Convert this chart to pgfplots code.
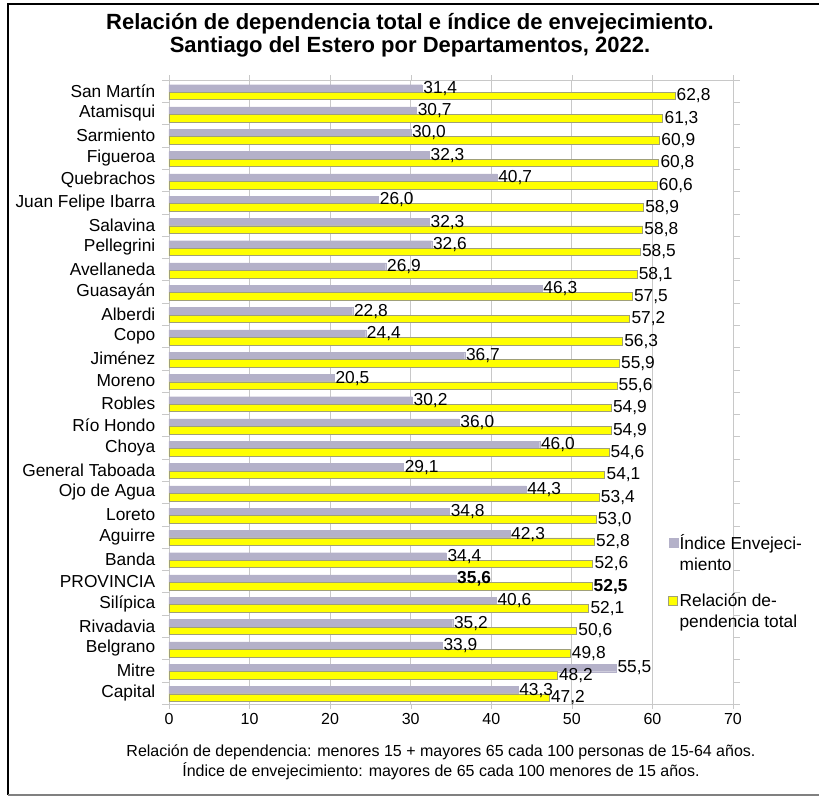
\documentclass[border=0pt]{standalone}
\usepackage{pgfplots}
\pgfplotsset{compat=1.18}
\usepackage{pgfplotstable}
\usepackage{fontspec}
\setmainfont{Liberation Sans}
\definecolor{iec}{RGB}{180,177,201}
\definecolor{rdy}{RGB}{255,255,0}
\definecolor{rdb}{RGB}{160,160,120}
\definecolor{gridc}{RGB}{200,200,200}

\pgfplotstableread{
i ie rd b
0 31.4 62.8 0
1 30.7 61.3 0
2 30.0 60.9 0
3 32.3 60.8 0
4 40.7 60.6 0
5 26.0 58.9 0
6 32.3 58.8 0
7 32.6 58.5 0
8 26.9 58.1 0
9 46.3 57.5 0
10 22.8 57.2 0
11 24.4 56.3 0
12 36.7 55.9 0
13 20.5 55.6 0
14 30.2 54.9 0
15 36.0 54.9 0
16 46.0 54.6 0
17 29.1 54.1 0
18 44.3 53.4 0
19 34.8 53.0 0
20 42.3 52.8 0
21 34.4 52.6 0
22 35.6 52.5 1
23 40.6 52.1 0
24 35.2 50.6 0
25 33.9 49.8 0
26 55.5 48.2 0
27 43.3 47.2 0
}\data

\begin{document}
\begin{tikzpicture}
\useasboundingbox (0pt,0pt) rectangle (614.25pt,597pt);
\begin{axis}[
  at={(126.75pt,69pt)}, anchor=south west,
  scale only axis, width=423pt, height=468pt,
  xbar,
  xmin=0, xmax=70, ymin=-0.5, ymax=27.5,
  enlargelimits=false,
  y dir=reverse,
  xtick={0,10,...,70},
  ytick={0,...,27},
  yticklabels={San Martín, Atamisqui, Sarmiento, Figueroa, Quebrachos, Juan Felipe Ibarra, Salavina, Pellegrini, Avellaneda, Guasayán, Alberdi, Copo, Jiménez, Moreno, Robles, Río Hondo, Choya, General Taboada, Ojo de Agua, Loreto, Aguirre, Banda, PROVINCIA, Silípica, Rivadavia, Belgrano, Mitre, Capital},
  minor ytick={-0.5,0.5,...,27.5},
  tick align=outside,
  major tick length=3.75pt,
  minor tick length=5.25pt,
  major y tick style={draw=none},
  minor y tick style={draw=gridc},
  major x tick style={draw=gridc},
  xmajorgrids,
  grid style={draw=gridc, line width=0.6pt},
  axis line style={draw=gridc, line width=0.6pt},
  /pgf/number format/assume math mode=true,
  xticklabel style={font=\fontsize{12pt}{14pt}\selectfont},
  yticklabel style={font=\fontsize{13pt}{15pt}\selectfont, xshift=-3pt},
  bar width=0.34,
  nodes near coords={\ifdim\isbold pt>0.5pt \bfseries\fi\pgfmathprintnumber[fixed,fixed zerofill,precision=1,use comma,assume math mode=true]{\pgfplotspointmeta}},
  every node near coord/.append style={font=\fontsize{13pt}{15pt}\selectfont, inner sep=1pt, black},
  visualization depends on={\thisrow{b} \as \isbold},
  legend style={at={(rel axis cs:0.885,0.275)}, anchor=north west, draw=none, fill=none,
    font=\fontsize{13pt}{15.75pt}\selectfont, row sep=14pt, inner sep=0pt,
    nodes={align=left, inner sep=1pt}},
  legend cell align=left,
  legend image code/.code={\draw[#1] (0pt,4.4pt) rectangle (6.8pt,11.2pt);},
  clip=false,
]
\addplot[xbar, bar shift=-0.12, fill=iec, draw=iec, line width=0.1pt] table[x=ie, y=i]{\data};
\addlegendentry{Índice Envejeci-\\miento}
\addplot[xbar, bar shift=0.22, fill=rdy, draw=rdb, line width=0.6pt] table[x=rd, y=i]{\data};
\addlegendentry{Relación de-\\pendencia total}
\end{axis}
\node[align=center, font=\bfseries\fontsize{16.5pt}{17.25pt}\selectfont] at (307.5pt,570.75pt)
  {Relación de dependencia total e índice de envejecimiento.\\Santiago del Estero por Departamentos, 2022.};
\node[align=center, font=\fontsize{12pt}{15pt}\selectfont] at (330.75pt,25.5pt)
  {Relación de dependencia: menores 15 + mayores 65 cada 100 personas de 15-64 años.\\Índice de envejecimiento: mayores de 65 cada 100 menores de 15 años.};
\draw[line width=1.5pt] (6pt,0.75pt) -- (6pt,594pt) -- (614.25pt,594pt);
\draw[gray, line width=1pt] (6pt,0.75pt) -- (614.25pt,0.75pt);
\end{tikzpicture}
\end{document}
